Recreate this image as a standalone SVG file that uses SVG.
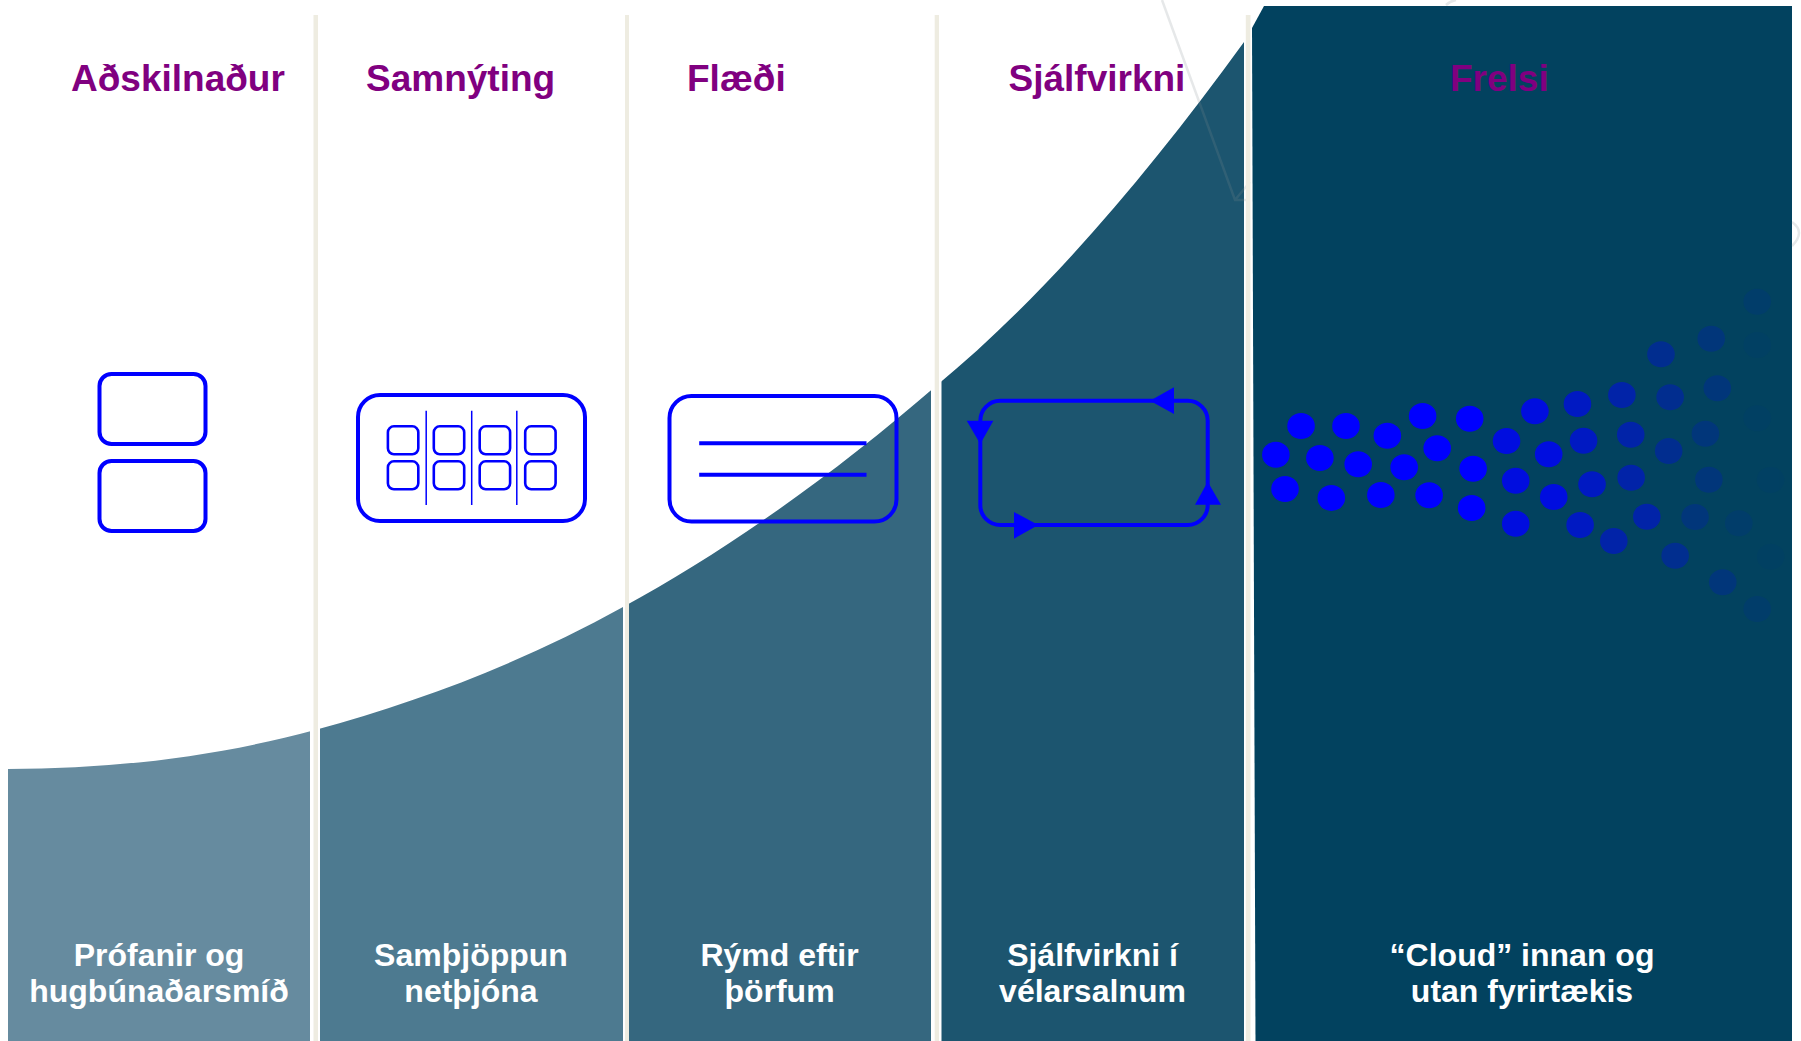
<svg xmlns="http://www.w3.org/2000/svg" width="1801" height="1041" viewBox="0 0 1801 1041">
<style>
.t{font-family:"Liberation Sans",Arial,sans-serif;font-weight:bold;font-size:37px;fill:#800080}
.b{font-family:"Liberation Sans",Arial,sans-serif;font-weight:bold;font-size:32px;fill:#fff;text-anchor:middle}
.i{fill:none;stroke:#00f;stroke-width:4}
.s{fill:none;stroke:#00f;stroke-width:2.6}
.v{stroke:#00f;stroke-width:1.5}
.a{fill:#00f}
.w{fill:none;stroke:#808a90;stroke-width:2.5;opacity:.2}
.div{fill:#eeece1}
.d0{fill:#00f}.d1{fill:#00f;opacity:.8}.d2{fill:#00f;opacity:.62}.d3{fill:#00f;opacity:.46}.d4{fill:#00f;opacity:.3}.d5{fill:#00f;opacity:.17}.d6{fill:#00f;opacity:.07}.d7{fill:#00f;opacity:.025}
</style>
<defs>
<clipPath id="under"><path d="M8,769 C110,769 213,757.5 315,730 C418,702 520,664 623,607 C727,550 832,476 936,386 C1039,301 1141,184 1244,42 L1244,1041 L8,1041 Z"/></clipPath>
<symbol id="sq" overflow="visible"><rect class="s" x="1.3" y="1.3" width="30.4" height="28" rx="6"/></symbol>
</defs>
<rect width="1801" height="1041" fill="#fff"/>
<g id="panels">
<g clip-path="url(#under)">
<rect x="8" y="0" width="302" height="1041" fill="#668b9f"/>
<rect x="320" y="0" width="303" height="1041" fill="#4d7a90"/>
<rect x="629" y="0" width="302" height="1041" fill="#35677f"/>
<rect x="941.5" y="0" width="302.5" height="1041" fill="#1c556f"/>
</g>
<path d="M1264,6 L1792,6 L1792,1041 L1255.5,1041 L1252,28 Z" fill="#02425f"/>
<path class="w" d="M1162,0 L1235,200 L1250,200 M1235,200 L1250,182"/>
<path class="w" d="M1446,5 Q1450,1 1456,0"/>
<path class="w" d="M1792,222 Q1806,232 1792,246"/>
</g>
<g id="dividers">
<rect class="div" x="313.5" y="15" width="4.5" height="1026"/>
<rect class="div" x="625" y="15" width="4" height="1026"/>
<rect class="div" x="934.7" y="15" width="4.3" height="1026"/>
<rect class="div" x="1245.8" y="15" width="4.7" height="1026"/>
</g>
<g id="col1">
<text class="t" x="71" y="91">Aðskilnaður</text>
<rect class="i" x="99.5" y="374" width="106" height="70" rx="12"/>
<rect class="i" x="99.5" y="461" width="106" height="70" rx="12"/>
<text class="b" x="159" y="965.5">Prófanir og</text>
<text class="b" x="159" y="1001.5">hugbúnaðarsmíð</text>
</g>
<g id="col2">
<text class="t" x="366" y="91">Samnýting</text>
<rect class="i" x="358" y="395" width="227" height="126" rx="22"/>
<use href="#sq" x="386.6" y="425"/><use href="#sq" x="432.5" y="425"/><use href="#sq" x="478.4" y="425"/><use href="#sq" x="523.9" y="425"/>
<use href="#sq" x="386.6" y="460"/><use href="#sq" x="432.5" y="460"/><use href="#sq" x="478.4" y="460"/><use href="#sq" x="523.9" y="460"/>
<path class="v" d="M426.2,410.7V505M471.7,410.7V505M516.8,410.7V505"/>
<text class="b" x="471" y="965.5">Samþjöppun</text>
<text class="b" x="471" y="1001.5">netþjóna</text>
</g>
<g id="col3">
<text class="t" x="687" y="91">Flæði</text>
<rect class="i" x="669.5" y="396" width="227" height="125.5" rx="22"/>
<path class="i" d="M699.2,443.3H866.5M699.2,474.7H866.5"/>
<text class="b" x="779.5" y="965.5">Rýmd eftir</text>
<text class="b" x="779.5" y="1001.5">þörfum</text>
</g>
<g id="col4">
<text class="t" x="1008.5" y="91">Sjálfvirkni</text>
<rect class="i" x="980.3" y="400.7" width="227.4" height="124.3" rx="20"/>
<path class="a" d="M1150,400.7L1174,387.3V414Z"/>
<path class="a" d="M980.3,444L966.7,420.7H993.3Z"/>
<path class="a" d="M1038.3,525L1014,512V538.7Z"/>
<path class="a" d="M1207.7,481.7L1195,504.7H1221Z"/>
<text class="b" x="1092.5" y="965.5">Sjálfvirkni í</text>
<text class="b" x="1092.5" y="1001.5">vélarsalnum</text>
</g>
<g id="col5">
<text class="t" x="1450" y="91">Frelsi</text>
<g id="dots" transform="translate(18.3 0) scale(.985 1)">
<g class="d0">
<ellipse cx="1302.3" cy="426" rx="14" ry="13"/><ellipse cx="1347.9" cy="426" rx="14" ry="13"/><ellipse cx="1389.9" cy="435.7" rx="14" ry="13"/><ellipse cx="1425.7" cy="416" rx="14" ry="13"/><ellipse cx="1473.5" cy="418.7" rx="14" ry="13"/>
<ellipse cx="1276.7" cy="454.7" rx="14" ry="13"/><ellipse cx="1321.4" cy="458" rx="14" ry="13"/><ellipse cx="1360.3" cy="464.3" rx="14" ry="13"/><ellipse cx="1407" cy="467.3" rx="14" ry="13"/><ellipse cx="1440.5" cy="448.3" rx="14" ry="13"/><ellipse cx="1477" cy="468.7" rx="14" ry="13"/>
<ellipse cx="1286" cy="489" rx="14" ry="13"/><ellipse cx="1333" cy="498" rx="14" ry="13"/><ellipse cx="1383.3" cy="495" rx="14" ry="13"/><ellipse cx="1432.3" cy="495.3" rx="14" ry="13"/><ellipse cx="1475.5" cy="508" rx="14" ry="13"/>
</g>
<g class="d1">
<ellipse cx="1510.9" cy="441" rx="14" ry="13"/><ellipse cx="1520.2" cy="480.7" rx="14" ry="13"/><ellipse cx="1520.2" cy="523.7" rx="14" ry="13"/><ellipse cx="1539.7" cy="411.3" rx="14" ry="13"/><ellipse cx="1553.7" cy="454.3" rx="14" ry="13"/><ellipse cx="1558.8" cy="497" rx="14" ry="13"/>
</g>
<g class="d2">
<ellipse cx="1582.9" cy="404" rx="14" ry="13"/><ellipse cx="1589.1" cy="440.7" rx="14" ry="13"/><ellipse cx="1597.7" cy="484.3" rx="14" ry="13"/><ellipse cx="1585.6" cy="525" rx="14" ry="13"/>
</g>
<g class="d3">
<ellipse cx="1628" cy="395" rx="14" ry="13"/><ellipse cx="1637" cy="434.7" rx="14" ry="13"/><ellipse cx="1637.4" cy="477.7" rx="14" ry="13"/><ellipse cx="1619.8" cy="541" rx="14" ry="13"/><ellipse cx="1653.3" cy="516.7" rx="14" ry="13"/>
</g>
<g class="d4">
<ellipse cx="1667.7" cy="354.3" rx="14" ry="13"/><ellipse cx="1677" cy="397.3" rx="14" ry="13"/><ellipse cx="1675.5" cy="451" rx="14" ry="13"/><ellipse cx="1682.1" cy="555.7" rx="14" ry="13"/>
</g>
<g class="d5">
<ellipse cx="1718.7" cy="338.7" rx="14" ry="13"/><ellipse cx="1724.9" cy="388.3" rx="14" ry="13"/><ellipse cx="1712.8" cy="433.7" rx="14" ry="13"/><ellipse cx="1716.3" cy="479.7" rx="14" ry="13"/><ellipse cx="1702.3" cy="517" rx="14" ry="13"/><ellipse cx="1730.4" cy="582.3" rx="14" ry="13"/>
</g>
<g class="d6">
<ellipse cx="1746.7" cy="523.3" rx="14" ry="13"/><ellipse cx="1765.4" cy="301.7" rx="14" ry="13"/><ellipse cx="1765.4" cy="609" rx="14" ry="13"/>
</g>
<g class="d7">
<ellipse cx="1765.4" cy="345" rx="14" ry="13"/><ellipse cx="1765.4" cy="418.3" rx="14" ry="13"/><ellipse cx="1779" cy="480" rx="14" ry="13"/><ellipse cx="1779" cy="556.7" rx="14" ry="13"/>
</g>
</g>
<text class="b" x="1522" y="965.5">“Cloud” innan og</text>
<text class="b" x="1522" y="1001.5">utan fyrirtækis</text>
</g>
</svg>
